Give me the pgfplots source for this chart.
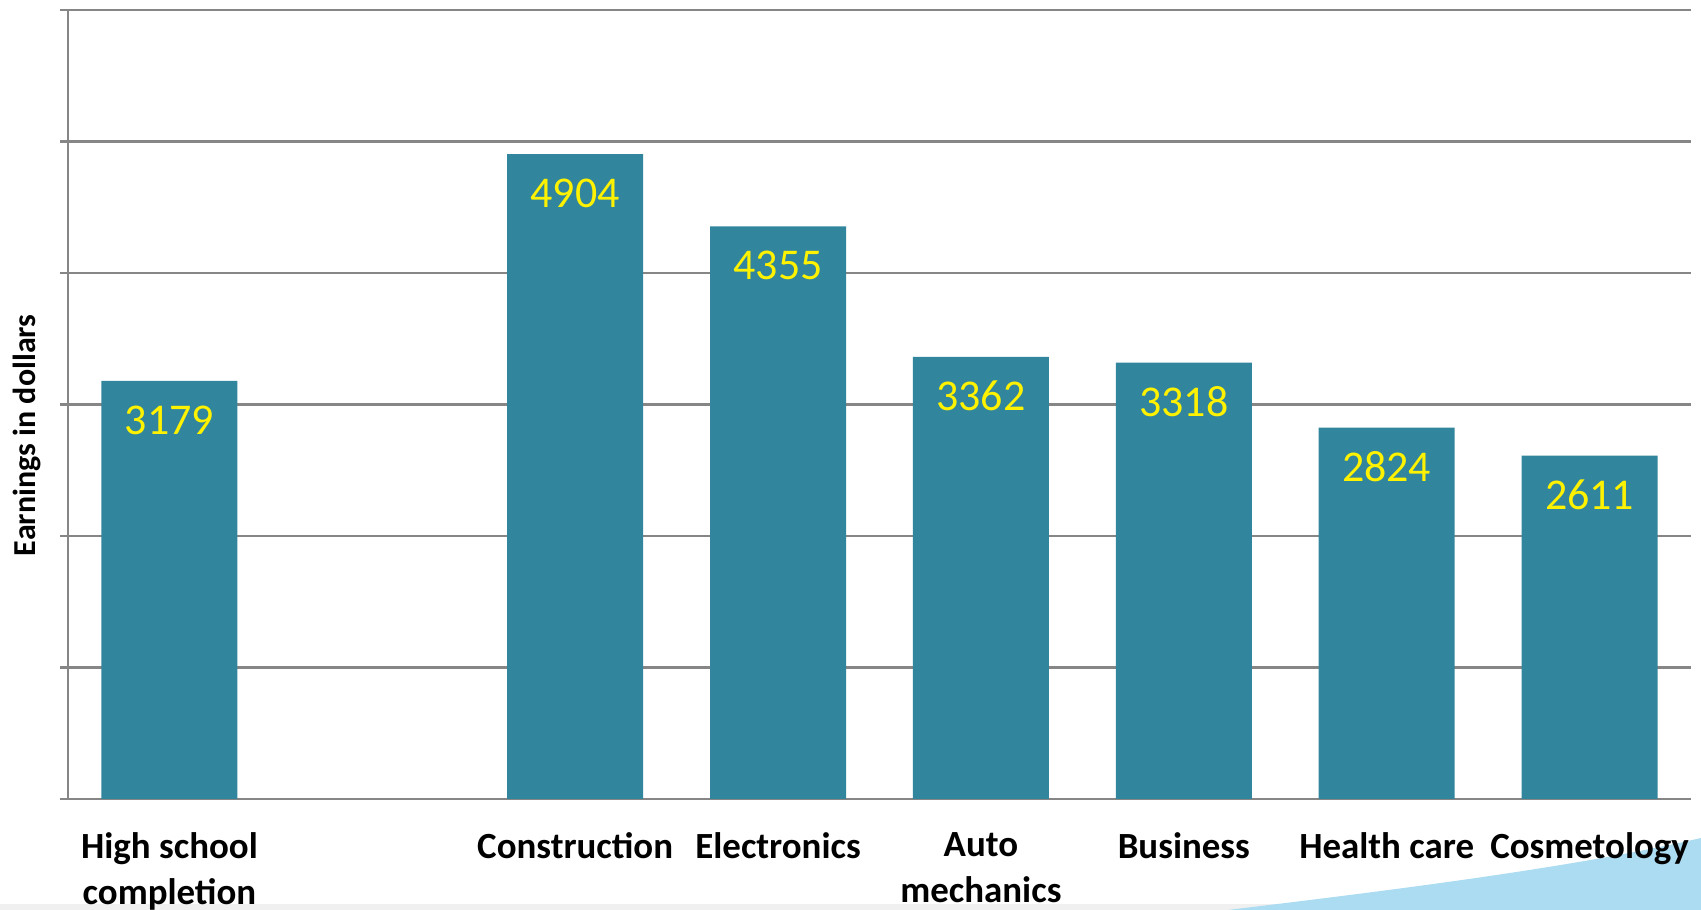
\documentclass[border=0pt]{standalone}
\usepackage{pgfplots}
\pgfplotsset{compat=1.18}
\usepackage{fontspec}
\setmainfont{Carlito}
\definecolor{barteal}{RGB}{49,133,156}
\definecolor{gridgray}{RGB}{134,134,134}
\definecolor{swoosh}{RGB}{172,220,242}
\begin{document}
\begin{tikzpicture}
% page frame (pixels of reference x 0.1mm)
\useasboundingbox (-6.8mm,-11.1mm) rectangle (163.3mm,79.9mm);
% decorative band and swoosh at the bottom
\fill[black!6] (-6.8mm,-11.1mm) rectangle (163.3mm,-10.5mm);
\fill[swoosh] (116mm,-11.1mm) .. controls (130mm,-9.4mm) and (150mm,-7.0mm) .. (163.3mm,-3.9mm) -- (163.3mm,-11.1mm) -- cycle;
\begin{axis}[
  at={(0,0)}, anchor=south west,
  scale only axis,
  width=162.3mm, height=78.9mm,
  xmin=-0.5, xmax=7.5,
  ymin=0, ymax=6000,
  axis x line*=bottom, axis y line*=left,
  axis line style={gridgray, line width=0.6pt, -},
  ytick={0,1000,...,6000},
  yticklabels={},
  ymajorgrids,
  grid style={gridgray, line width=0.6pt},
  major tick length=0.8mm,
  ytick style={gridgray, line width=0.6pt},
  tick align=outside,
  xtick={0,2,3,4,5,6,7},
  xticklabels={High school\\completion, Construction, Electronics, Auto\\mechanics, Business, Health care, Cosmetology},
  xtick style={draw=none},
  xticklabel style={align=center, anchor=north, inner sep=0pt, yshift=-2.45mm,
    font=\fontsize{10.5}{13.2}\selectfont\bfseries},
  ylabel={Earnings in dollars},
  every axis y label/.style={at={(axis description cs:-0.0253,0.461)}, rotate=90, anchor=center,
    font=\fontsize{9.1}{11}\selectfont\bfseries},
  clip=false,
]
\addplot[ybar, bar width=13.6mm, fill=barteal, draw=none,
  point meta=explicit symbolic,
  nodes near coords={\pgfplotspointmeta},
  every node near coord/.append style={anchor=center, yshift=-3.9mm, text=yellow,
    font=\fontsize{12.5}{14}\selectfont},
] coordinates {
  (0,3179) [3179]
  (2,4904) [4904]
  (3,4355) [4355]
  (4,3362) [3362]
  (5,3318) [3318]
  (6,2824) [2824]
  (7,2611) [2611]
};
\end{axis}
\end{tikzpicture}
\end{document}
